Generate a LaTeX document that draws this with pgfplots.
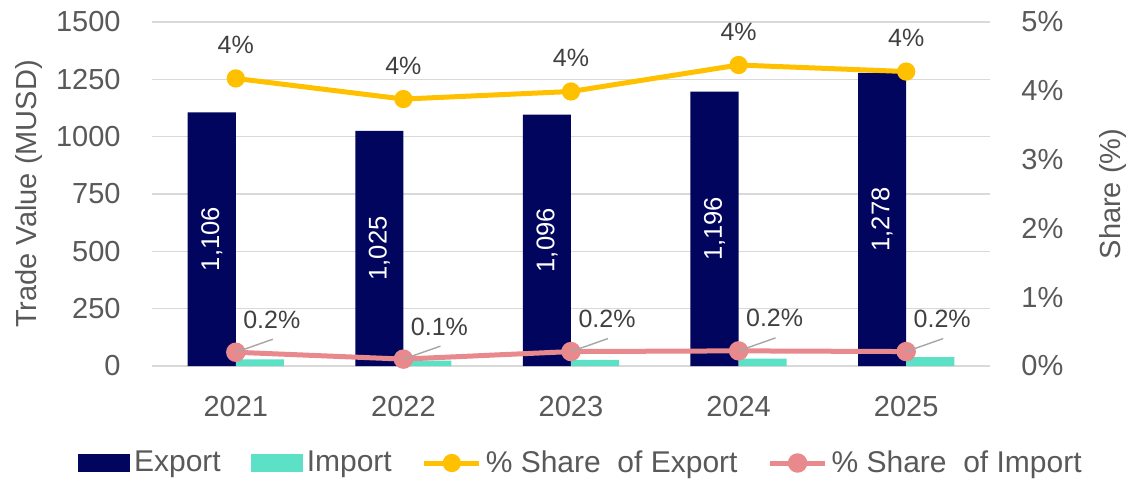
\documentclass[border=0pt]{standalone}
\usepackage{fontspec}
\setmainfont{Liberation Sans}
\usepackage{pgfplots}
\pgfplotsset{compat=1.18}
\definecolor{navy}{HTML}{02055E}
\definecolor{turq}{HTML}{5CE0C6}
\definecolor{gold}{HTML}{FFC000}
\definecolor{rose}{HTML}{E8898D}
\definecolor{txt}{HTML}{595959}
\definecolor{lbl}{HTML}{404040}
\definecolor{grd}{HTML}{D9D9D9}
\begin{document}
\begin{tikzpicture}
\pgfplotsset{
  base/.style={
    scale only axis, width=419pt, height=172pt,
    at={(0,0)}, anchor=south west,
    xmin=-0.5, xmax=4.5,
    axis line style={draw=none},
    major tick length=0pt,
    tick label style={font=\fontsize{14.5}{17}\selectfont, text=txt},
    /pgf/number format/assume math mode=true,
    /pgf/number format/1000 sep={},
    clip=false,
  },
  barleg/.style={legend image code/.code={\fill[##1] (0pt,-4.3pt) rectangle (26pt,4.3pt);}},
  lineleg/.style={legend image code/.code={\draw[##1, mark repeat=2, mark phase=2] plot coordinates {(0pt,0pt) (13.75pt,0pt) (27.5pt,0pt)};}},
}
\begin{axis}[base,
  ymin=0, ymax=1500, ytick={0,250,...,1500},
  ymajorgrids, grid style={grd, line width=0.7pt},
  xtick={0,...,4}, xticklabels={2021,2022,2023,2024,2025},
  xticklabel style={anchor=base, inner sep=0pt, yshift=-25pt},
  yticklabel style={anchor=east, inner sep=0pt, xshift=-15.5pt},
  ylabel={Trade Value (MUSD)},
  every axis y label/.style={at={(axis description cs:-0.1468,0.5)}, anchor=center, rotate=90,
    font=\fontsize{14.5}{17}\selectfont, text=txt},
  ybar=0pt, bar width=0.287,
]
\addplot[fill=navy, draw=none,
  point meta=explicit symbolic,
  nodes near coords,
  visualization depends on={rawy \as \rawy},
  every node near coord/.append style={yshift={-0.0573333*\rawy*1pt}, rotate=90, anchor=center, text=white, font=\fontsize{12.8}{15}\selectfont}]
coordinates {(0,1106) [1,106] (1,1025) [1,025] (2,1096) [1,096] (3,1196) [1,196] (4,1278) [1,278]};
\addplot[fill=turq, draw=none] coordinates {(0,29) (1,23) (2,27) (3,32) (4,39)};
\end{axis}
\begin{axis}[base,
  ymin=0, ymax=5, ytick={0,...,5}, yticklabels={0\%,1\%,2\%,3\%,4\%,5\%},
  yticklabel pos=right,
  xtick=\empty,
  yticklabel style={anchor=west, inner sep=0pt, xshift=15.5pt},
  ylabel={Share (\%)},
  every axis y label/.style={at={(axis description cs:1.1468,0.5)}, anchor=center, rotate=90,
    font=\fontsize{14.5}{17}\selectfont, text=txt},
  legend columns=4,
  legend style={at={(axis description cs:0.513,-0.282)}, anchor=center, draw=none, fill=none,
    font=\fontsize{15}{18}\selectfont, text=txt,
    nodes={inner xsep=2pt},
    /tikz/every even column/.append style={column sep=13pt}},
]
\addlegendimage{barleg, fill=navy, draw=none}
\addlegendentry{Export}
\addlegendimage{barleg, fill=turq, draw=none}
\addlegendentry{Import}
\addplot[lineleg, gold, line width=2.5pt, mark=*, mark size=3.3pt, mark options={solid, draw=none, fill=gold},
  point meta=explicit symbolic, nodes near coords,
  every node near coord/.append style={anchor=base, yshift=12.5pt, font=\fontsize{12.5}{15}\selectfont, text=lbl}]
coordinates {(0,4.18) [4\%] (1,3.88) [4\%] (2,3.99) [4\%] (3,4.375) [4\%] (4,4.28) [4\%]};
\addlegendentry{\% Share~~of Export}
\addplot[lineleg, rose, line width=2.5pt, mark=*, mark size=3.6pt, mark options={solid, draw=none, fill=rose},
  point meta=explicit symbolic, nodes near coords,
  every node near coord/.append style={anchor=base, xshift=18pt, yshift=12pt, font=\fontsize{12.5}{15}\selectfont, text=lbl,
    append after command={(\tikzlastnode.base) ++(0.5pt,-5.5pt) edge[draw=gray!70, line width=0.7pt] ++(-18.5pt,-6.5pt)}}]
coordinates {(0,0.20) [0.2\%] (1,0.10) [0.1\%] (2,0.21) [0.2\%] (3,0.22) [0.2\%] (4,0.21) [0.2\%]};
\addlegendentry{\% Share~~of Import}
\end{axis}
\pgfresetboundingbox
\path (-76pt,-56pt) rectangle (489.5pt,183pt);
\end{tikzpicture}
\end{document}
